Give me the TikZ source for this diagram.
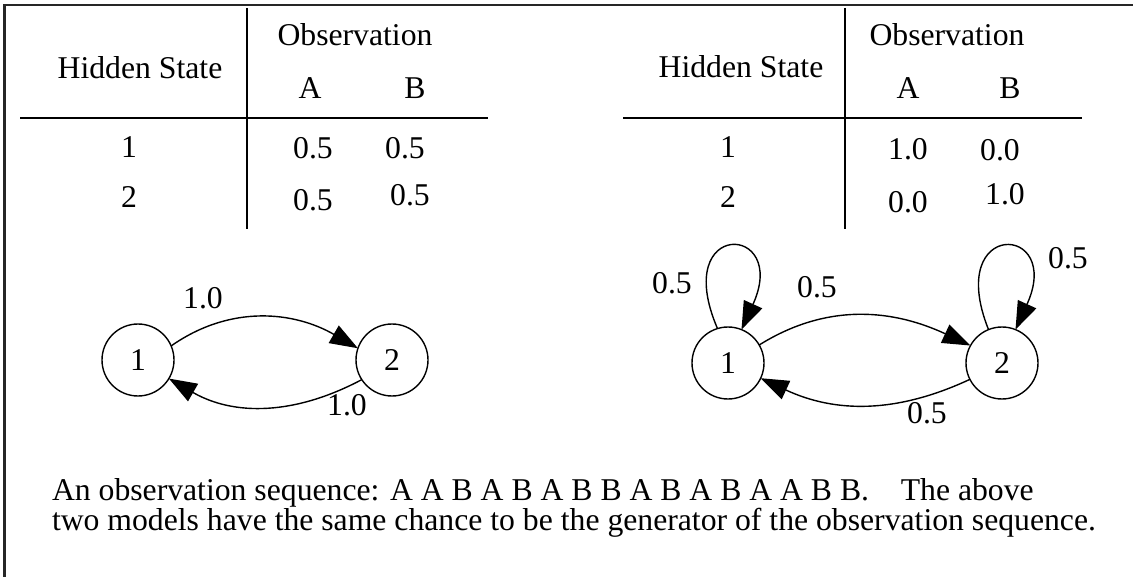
\documentclass[tikz,border=0pt]{standalone}
\usepackage{fontspec}
\setmainfont{Liberation Serif}
\usetikzlibrary{arrows.meta,calc}
\begin{document}
\begin{tikzpicture}[x=1pt,y=-1pt,
  every node/.style={inner sep=0pt,outer sep=0pt,font=\fontsize{31.7}{38}\selectfont},
  txt/.style={anchor=base},
  rule/.style={line width=1.6pt,black},
  frame/.style={line width=2.2pt,black!85},
  state/.style={circle,draw,line width=1.4pt,minimum size=72pt},
  edge/.style={line width=1.4pt,-{Triangle[length=28pt,width=20pt]}},
  lab/.style={anchor=center}]
\useasboundingbox (0,0) rectangle (1133,577);
% frame
\draw[frame] (4.5,577) -- (4.5,5) -- (1133,5);

% ---------- left table ----------
\draw[rule] (247,8) -- (247,229);
\draw[rule] (20,118) -- (488,118);
\node[txt] (lobs) at (355,46) {Observation};
\node[txt] (lhs) at (140,79) {Hidden State};
\node[txt] (lA) at (310,99) {A};
\node[txt] (lB) at (415,99) {B};
\node[txt] (lr1) at (129,158) {1};
\node[txt] (lr2) at (129,208) {2};
\node[txt] (l11) at (313,159) {0.5};
\node[txt] (l12) at (405,159) {0.5};
\node[txt] (l21) at (313,211) {0.5};
\node[txt] (l22) at (410,206) {0.5};

% ---------- right table ----------
\draw[rule] (845,8) -- (845,229);
\draw[rule] (623,118) -- (1082,118);
\node[txt] (robs) at (947,46) {Observation};
\node[txt] (rhs) at (741,78) {Hidden State};
\node[txt] (rA) at (908,99) {A};
\node[txt] (rB) at (1010,99) {B};
\node[txt] (rr1) at (728,158) {1};
\node[txt] (rr2) at (728,208) {2};
\node[txt] (r11) at (908,160) {1.0};
\node[txt] (r12) at (1000,161) {0.0};
\node[txt] (r21) at (908,213) {0.0};
\node[txt] (r22) at (1005,205) {1.0};

% ---------- left graph ----------
\node[state] (a1) at (138,360) {1};
\node[state] (a2) at (392,360) {2};
\draw[edge] (a1.23) to[out=35,in=150] (a2.161);
\draw[edge] (a2.213) to[out=208,in=330] (a1.329);
\node[lab] (la) at (203,298) {1.0};
\node[lab] (lb) at (347,405) {1.0};

% ---------- right graph ----------
\node[state] (b1) at (728,363) {1};
\node[state] (b2) at (1002,363) {2};
\draw[edge] (b1.30) to[out=32,in=155] (b2.151);
\draw[edge] (b2.207) to[out=205,in=335] (b1.335);
\draw[edge] (b1.107) .. controls ($(b1)+(-58,-145)$) and ($(b1)+(62,-140)$) .. (b1.68);
\draw[edge] (b2.112) .. controls ($(b2)+(-58,-145)$) and ($(b2)+(62,-140)$) .. (b2.68);
\node[lab] (lc) at (672,283) {0.5};
\node[lab] (ld) at (817,287) {0.5};
\node[lab] (le) at (1068,258) {0.5};
\node[lab] (lf) at (927,413) {0.5};

% ---------- caption ----------
\node[anchor=base west] (cap1) at (52,500) {An observation sequence: A A B A B A B B A B A B A A B B.\hspace{0.75em} The above};
\node[anchor=base west] (cap2) at (52,530) {two models have the same chance to be the generator of the observation sequence.};
\end{tikzpicture}
\end{document}
